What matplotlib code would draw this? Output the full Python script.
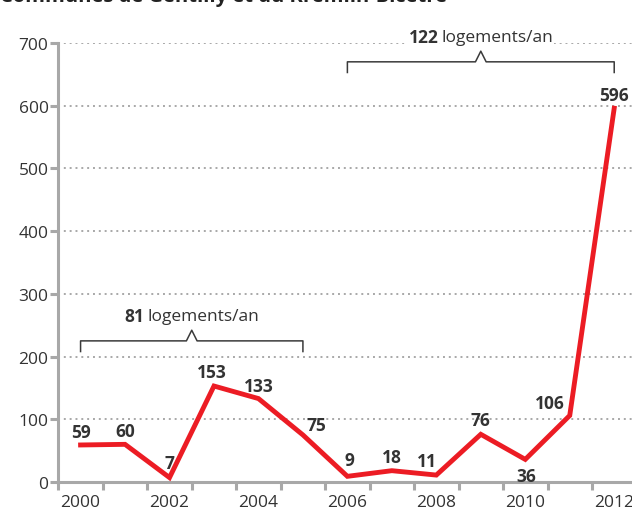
import matplotlib.pyplot as plt
import numpy as np

plt.rcParams['font.family'] = ['Open Sans', 'DejaVu Sans']

# logements commencés par an
years = np.arange(2000, 2013)
values = [59, 60, 7, 153, 133, 75, 9, 18, 11, 76, 36, 106, 596]
# label offsets in pixels (dx, dy) from each point
offsets = [(0, 13), (0, 13), (0, 15), (-2, 14), (0, 13), (13, 10), (2, 16), (0, 14),
           (-9, 14), (0, 14), (1, -17), (-20, 12), (0, 13)]
year_labels = [str(y) for y in years[::2]]

gray = '#a8a8a8'
red = '#ec1c24'
dark = '#333333'
fs = 12.5

fig = plt.figure(figsize=(6.32, 5.10), dpi=100)
ax = fig.add_axes([0.0923, 0.053, 0.9077, 0.8607])

# each year is drawn in the middle of its slot
x = years + 0.5
ax.plot(x, values, color=red, lw=3.5, solid_joinstyle='miter', zorder=3, clip_on=False)

for xi, v, (dx, dy) in zip(x, values, offsets):
    ax.annotate(str(v), (xi, v), xytext=(dx, dy), textcoords='offset pixels',
                ha='center', va='center', fontsize=fs, fontweight='bold', color=dark)

# tick marks on slot boundaries, labels centred in the slots
ax.set_xticks(range(2000, 2013), [''] * 13)
ax.set_xticks(x[::2], year_labels, minor=True)
ax.set_yticks(range(0, 701, 100))
ax.set_xlim(2000, 2012.9)
ax.set_ylim(0, 700)
ax.yaxis.grid(True, ls=(0, (1, 2)), color=gray, lw=1.4)
ax.set_axisbelow(True)

for s in ['top', 'right']:
    ax.spines[s].set_visible(False)
for s in ['left', 'bottom']:
    ax.spines[s].set_color(gray)
    ax.spines[s].set_linewidth(2.2)
ax.tick_params(axis='both', which='major', color=gray, width=2.2, length=5.5,
               labelsize=fs, labelcolor=dark)
ax.tick_params(axis='x', which='minor', length=0, pad=8.5, labelsize=fs, labelcolor=dark)
ax.tick_params(axis='y', pad=1.5)

fig.canvas.draw()
renderer = fig.canvas.get_renderer()


def brace(x0, x1, y, h, bold, label):
    xm = (x0 + x1) / 2
    w = 0.12
    ax.plot([x0, x0, xm - w, xm, xm + w, x1, x1],
            [y - h, y, y, y + h, y, y, y - h],
            color='#3a3a3a', lw=1.1, clip_on=False, zorder=4)
    box = dict(facecolor='white', edgecolor='none', pad=0.5)
    tb = ax.text(0, 0, bold, fontsize=fs, fontweight='bold')
    tl = ax.text(0, 0, label, fontsize=fs)
    wb = tb.get_window_extent(renderer).width
    wl = tl.get_window_extent(renderer).width
    tb.remove()
    tl.remove()
    gap = 3
    left = -(wb + gap + wl) / 2
    ax.annotate(bold, (xm, y + 2.3 * h), xytext=(left, 0), textcoords='offset pixels',
                ha='left', va='center', fontsize=fs, fontweight='bold', color=dark,
                zorder=5, bbox=box, annotation_clip=False)
    ax.annotate(label, (xm, y + 2.3 * h), xytext=(left + wb + gap, 0),
                textcoords='offset pixels', ha='left', va='center', fontsize=fs,
                color=dark, zorder=5, bbox=box, annotation_clip=False)


brace(2000.5, 2005.5, 225, 17, '81', 'logements/an')
brace(2006.5, 2012.5, 670, 17, '122', 'logements/an')

fig.text(0.0, 1.006, 'Communes de Gentilly et du Kremlin-Bicêtre', ha='left', va='center',
         fontsize=14.5, fontweight='bold', color='#222222')

fig.savefig('out.png', dpi=100)
